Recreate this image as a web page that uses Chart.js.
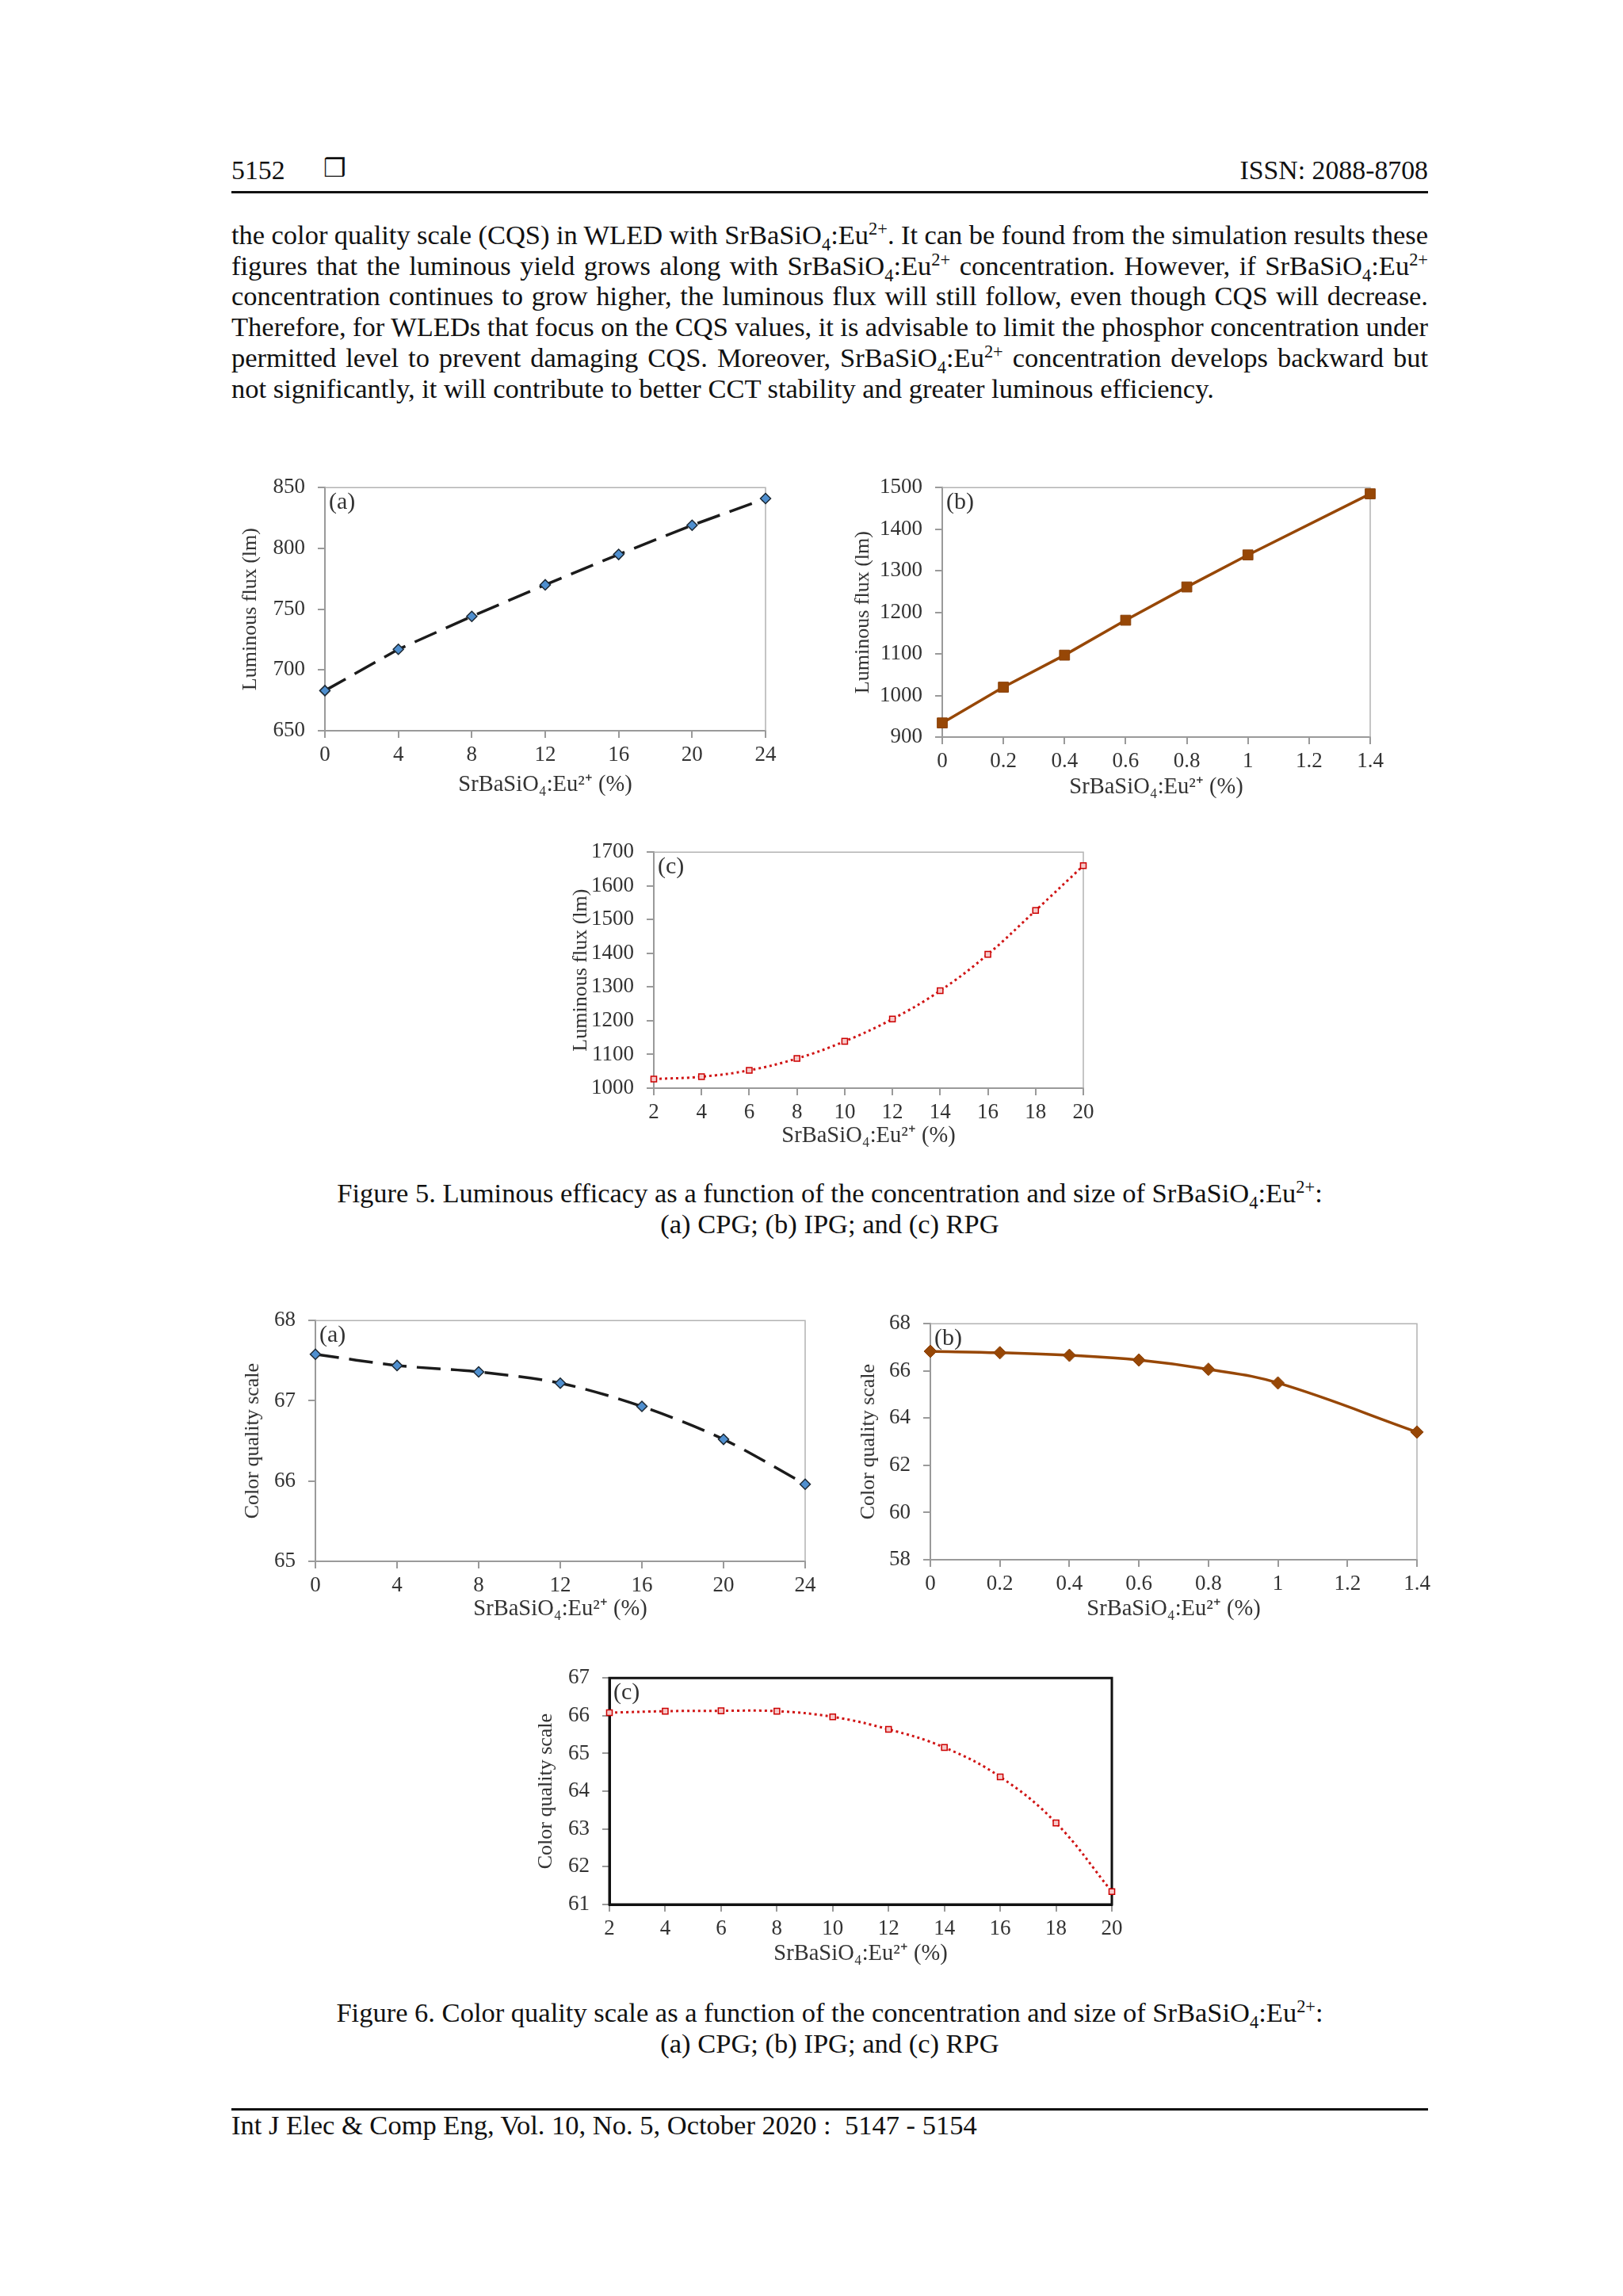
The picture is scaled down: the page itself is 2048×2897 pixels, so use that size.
<!DOCTYPE html>
<html>
<head>
<meta charset="utf-8">
<script src="https://cdn.jsdelivr.net/npm/chart.js@4.4.1/dist/chart.umd.min.js"></script>
<style>
  body { margin: 0; background: #fff; }
  #page { position: relative; width: 2048px; height: 2897px; font-family: "Liberation Serif", "Times New Roman", serif; color: #111; overflow: hidden; }
  .ln { position: absolute; left: 292px; width: 1510px; font-size: 34.5px; line-height: 34.5px; white-space: nowrap; }
  .c { text-align: center; }
  sub, sup { font-size: 0.65em; line-height: 0; }
  .rule { position: absolute; left: 292px; width: 1510px; height: 3px; background: #111; }
  canvas { position: absolute; }
</style>
</head>
<body>
<div id="page">
  <div class="ln" style="top:198px;font-size:33.8px;line-height:33.8px;">5152</div>
  <div style="position:absolute;left:408px;top:196px;font-family:'DejaVu Sans';font-size:32px;line-height:32px;font-weight:bold;">❒</div>
  <div class="ln" style="top:198px;font-size:33.8px;line-height:33.8px;text-align:right;">ISSN: 2088-8708</div>
  <div class="rule" style="top:241px;"></div>

  <div class="ln j" style="top:279px;"><span>the color quality scale (CQS) in WLED with SrBaSiO<sub>4</sub>:Eu<sup>2+</sup>. It can be found from the simulation results these</span></div>
  <div class="ln j" style="top:318px;"><span>figures that the luminous yield grows along with SrBaSiO<sub>4</sub>:Eu<sup>2+</sup> concentration. However, if SrBaSiO<sub>4</sub>:Eu<sup>2+</sup></span></div>
  <div class="ln j" style="top:356px;"><span>concentration continues to grow higher, the luminous flux will still follow, even though CQS will decrease.</span></div>
  <div class="ln j" style="top:395px;"><span>Therefore, for WLEDs that focus on the CQS values, it is advisable to limit the phosphor concentration under</span></div>
  <div class="ln j" style="top:434px;"><span>permitted level to prevent damaging CQS. Moreover, SrBaSiO<sub>4</sub>:Eu<sup>2+</sup> concentration develops backward but</span></div>
  <div class="ln" style="top:473px;"><span>not significantly, it will contribute to better CCT stability and greater luminous efficiency.</span></div>

  <canvas id="f5a"></canvas>
  <canvas id="f5b"></canvas>
  <canvas id="f5c"></canvas>

  <div class="ln c" style="top:1488px;">Figure 5. Luminous efficacy as a function of the concentration and size of SrBaSiO<sub>4</sub>:Eu<sup>2+</sup>:</div>
  <div class="ln c" style="top:1527px;">(a) CPG; (b) IPG; and (c) RPG</div>

  <canvas id="f6a"></canvas>
  <canvas id="f6b"></canvas>
  <canvas id="f6c"></canvas>

  <div class="ln c" style="top:2522px;">Figure 6. Color quality scale as a function of the concentration and size of SrBaSiO<sub>4</sub>:Eu<sup>2+</sup>:</div>
  <div class="ln c" style="top:2561px;">(a) CPG; (b) IPG; and (c) RPG</div>

  <div class="rule" style="top:2660px;"></div>
  <div class="ln" style="top:2664px;">Int J Elec &amp; Comp Eng, Vol. 10, No. 5, October 2020 :&nbsp; 5147 - 5154</div>
</div>

<script>
// data
const xConcA = [0, 4, 8, 12, 16, 20, 24];
const xConcB = [0, 0.2, 0.4, 0.6, 0.8, 1, 1.4];
const xConcC = [2, 4, 6, 8, 10, 12, 14, 16, 18, 20];

const flux5a = [683, 717, 744, 770, 795, 819, 841];
const flux5b = [934, 1020, 1097, 1181, 1261, 1338, 1485];
const flux5c = [1027, 1034, 1053, 1088, 1139, 1205, 1289, 1397, 1527, 1660];

const cqs6a = [67.58, 67.44, 67.36, 67.22, 66.93, 66.52, 65.96];
const cqs6b = [66.83, 66.77, 66.66, 66.46, 66.07, 65.49, 63.41];
const cqs6c = [66.08, 66.12, 66.13, 66.12, 65.97, 65.64, 65.16, 64.38, 63.16, 61.34];

// tick labels
const xTicksA = [0, 4, 8, 12, 16, 20, 24];
const xTicksB = [0, 0.2, 0.4, 0.6, 0.8, 1, 1.2, 1.4];
const xTicksC = [2, 4, 6, 8, 10, 12, 14, 16, 18, 20];
const yTicks5a = [650, 700, 750, 800, 850];
const yTicks5b = [900, 1000, 1100, 1200, 1300, 1400, 1500];
const yTicks5c = [1000, 1100, 1200, 1300, 1400, 1500, 1600, 1700];
const yTicks6a = [65, 66, 67, 68];
const yTicks6b = [58, 60, 62, 64, 66, 68];
const yTicks6c = [61, 62, 63, 64, 65, 66, 67];

const xTitle = 'SrBaSiO\u2084:Eu\u00B2\u207A (%)';
const fluxTitle = 'Luminous flux (lm)';
const cqsTitle = 'Color quality scale';

// justify body lines like the printed page
document.querySelectorAll('.j').forEach(function (el) {
  const sp = el.firstElementChild;
  const w = sp.getBoundingClientRect().width;
  const n = (sp.textContent.match(/ /g) || []).length;
  el.style.wordSpacing = ((1510 - w) / n) + 'px';
});

const FONT = '"Liberation Serif", "Times New Roman", serif';
const TXT = '#333333';
const AX = '#9a9a9a';
const PT = 24, PR = 34;

const framePlugin = {
  id: 'frame',
  beforeDatasetsDraw(chart, args, o) {
    const ctx = chart.ctx, a = chart.chartArea;
    ctx.save();
    ctx.strokeStyle = o.color;
    ctx.lineWidth = o.width;
    ctx.beginPath();
    if (o.full) {
      ctx.rect(a.left, a.top, a.right - a.left, a.bottom - a.top);
    } else {
      ctx.moveTo(a.left, a.top);
      ctx.lineTo(a.right, a.top);
      ctx.lineTo(a.right, a.bottom);
    }
    ctx.stroke();
    ctx.restore();
  },
  afterDraw(chart, args, o) {
    const ctx = chart.ctx, a = chart.chartArea;
    ctx.save();
    ctx.font = '30px ' + FONT;
    ctx.fillStyle = TXT;
    ctx.textBaseline = 'middle';
    ctx.fillText(o.tag, a.left + 5, a.top + 19);
    ctx.restore();
  }
};

function makeChart(id, box, xs, ys, xTicks, yTicks, yTitle, ds, frame) {
  const YW = box.yOff + 16, XH = box.xOff + 17;
  const cv = document.getElementById(id);
  cv.width = (box.r - box.l) + YW + PR;
  cv.height = (box.b - box.t) + PT + XH;
  cv.style.left = (box.l - YW) + 'px';
  cv.style.top = (box.t - PT) + 'px';

  const points = xs.map(function (x, i) { return { x: x, y: ys[i] }; });
  const axBorder = frame.full ? { color: frame.color, width: frame.width } : { color: AX, width: 2 };

  return new Chart(cv, {
    type: 'scatter',
    data: { datasets: [Object.assign({ data: points, showLine: true, clip: false }, ds)] },
    plugins: [framePlugin],
    options: {
      responsive: false,
      animation: false,
      devicePixelRatio: 1,
      layout: { padding: { top: PT, right: PR, left: 0, bottom: 0 } },
      plugins: {
        legend: { display: false },
        tooltip: { enabled: false },
        frame: frame
      },
      scales: {
        x: {
          type: 'linear',
          min: xTicks[0],
          max: xTicks[xTicks.length - 1],
          afterBuildTicks: function (s) { s.ticks = xTicks.map(function (v) { return { value: v }; }); },
          afterFit: function (s) { s.height = XH; },
          grid: { drawOnChartArea: false, drawTicks: true, tickLength: 9, color: AX, lineWidth: 2 },
          border: axBorder,
          ticks: { padding: 6, autoSkip: false, maxRotation: 0, color: TXT, font: { family: FONT, size: 27 },
                   callback: function (v) { return String(v); } },
          title: { display: true, text: xTitle, color: TXT, padding: 0, font: { family: FONT, size: 28.5 } }
        },
        y: {
          type: 'linear',
          min: yTicks[0],
          max: yTicks[yTicks.length - 1],
          afterBuildTicks: function (s) { s.ticks = yTicks.map(function (v) { return { value: v }; }); },
          afterFit: function (s) { s.width = YW; },
          grid: { drawOnChartArea: false, drawTicks: true, tickLength: 9, color: AX, lineWidth: 2 },
          border: axBorder,
          ticks: { padding: 16, autoSkip: false, color: TXT, font: { family: FONT, size: 27 },
                   callback: function (v) { return String(v); } },
          title: { display: true, text: yTitle, color: TXT, padding: 0, font: { family: FONT, size: 26 } }
        }
      }
    }
  });
}

const dashedBlack = {
  borderColor: '#1b1b1b', borderWidth: 3.5, borderDash: [30, 13],
  pointStyle: 'rectRot', pointRadius: 6.5, pointBackgroundColor: '#4f8fcf',
  pointBorderColor: '#1c2833', pointBorderWidth: 1.5
};
const brown = {
  borderColor: '#974706', borderWidth: 3.5,
  pointBackgroundColor: '#974706', pointBorderColor: '#8a4008', pointBorderWidth: 1
};
const dottedRed = {
  borderColor: '#d01515', borderWidth: 3, borderDash: [3, 4],
  pointStyle: 'rect', pointRadius: 5, pointBackgroundColor: '#f6caca',
  pointBorderColor: '#cc0000', pointBorderWidth: 1.5
};
const grayFrame = { color: '#b3b3b3', width: 1.5, full: false };

makeChart('f5a', { l: 410, t: 607, r: 966, b: 922, yOff: 93, xOff: 69 },
  xConcA, flux5a, xTicksA, yTicks5a, fluxTitle,
  Object.assign({ tension: 0 }, dashedBlack), Object.assign({ tag: '(a)' }, grayFrame));

makeChart('f5b', { l: 1189, t: 607, r: 1729, b: 930, yOff: 99, xOff: 64 },
  xConcB, flux5b, xTicksB, yTicks5b, fluxTitle,
  Object.assign({ tension: 0, pointStyle: 'rect', pointRadius: 9 }, brown), Object.assign({ tag: '(b)' }, grayFrame));

makeChart('f5c', { l: 825, t: 1067, r: 1367, b: 1373, yOff: 91, xOff: 61 },
  xConcC, flux5c, xTicksC, yTicks5c, fluxTitle,
  Object.assign({ tension: 0.4 }, dottedRed), Object.assign({ tag: '(c)' }, grayFrame));

makeChart('f6a', { l: 398, t: 1658, r: 1016, b: 1970, yOff: 78, xOff: 61 },
  xConcA, cqs6a, xTicksA, yTicks6a, cqsTitle,
  Object.assign({ tension: 0.3 }, dashedBlack), Object.assign({ tag: '(a)' }, grayFrame));

makeChart('f6b', { l: 1174, t: 1662, r: 1788, b: 1968, yOff: 77, xOff: 63 },
  xConcB, cqs6b, xTicksB, yTicks6b, cqsTitle,
  Object.assign({ tension: 0.4, pointStyle: 'rectRot', pointRadius: 8 }, brown), Object.assign({ tag: '(b)' }, grayFrame));

makeChart('f6c', { l: 769, t: 2109, r: 1403, b: 2403, yOff: 79, xOff: 63 },
  xConcC, cqs6c, xTicksC, yTicks6c, cqsTitle,
  Object.assign({ tension: 0.4 }, dottedRed), { tag: '(c)', color: '#111', width: 3, full: true });
</script>
</body>
</html>
